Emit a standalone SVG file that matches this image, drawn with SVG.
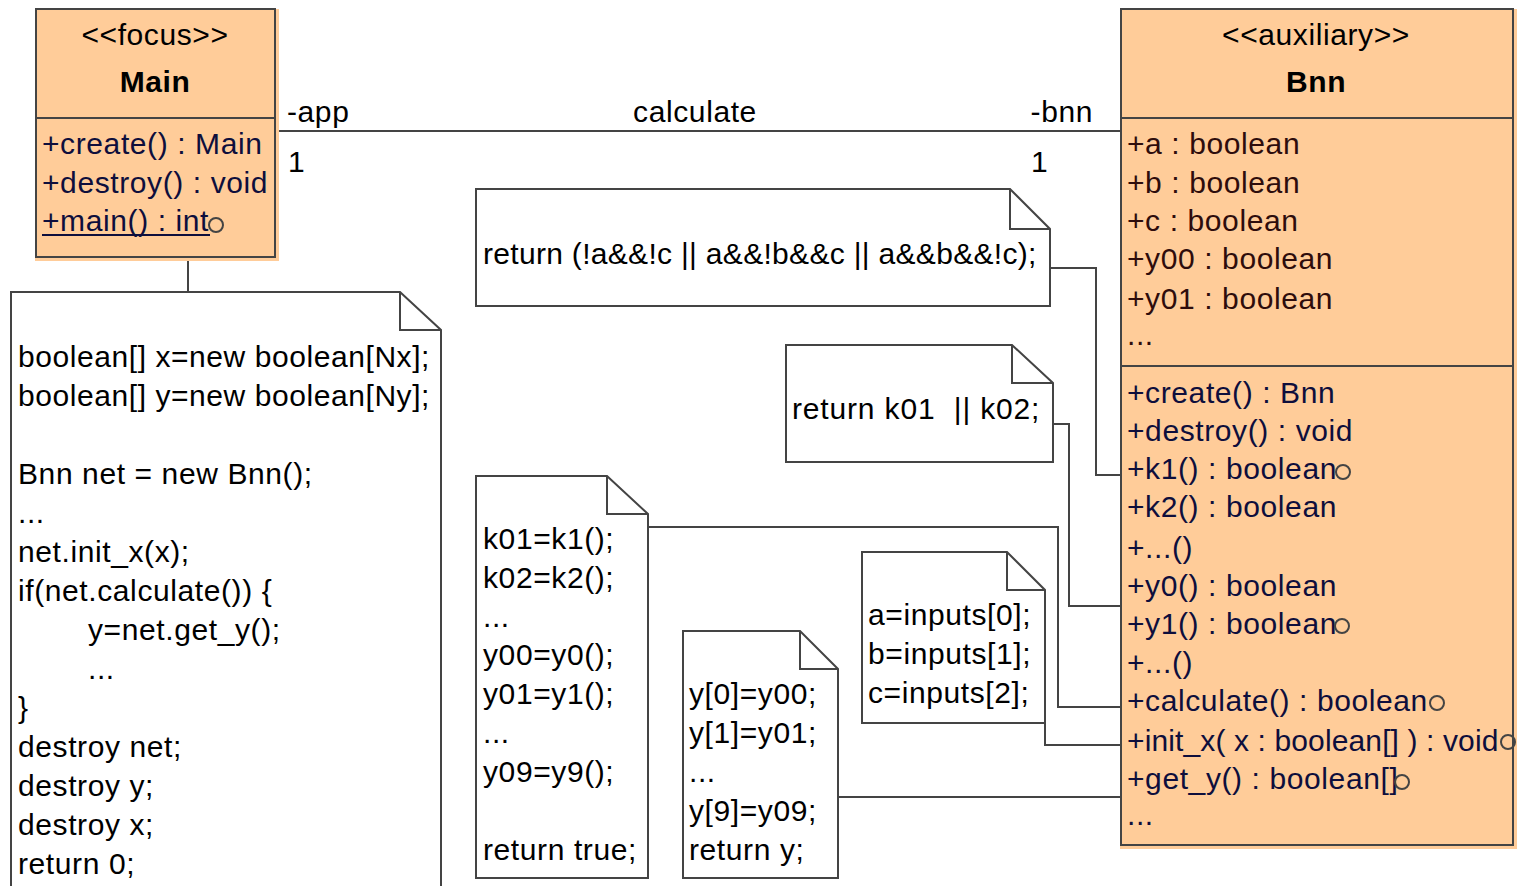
<svg xmlns="http://www.w3.org/2000/svg" width="1517" height="886" viewBox="0 0 1517 886">
<style>
text { font-family: "Liberation Sans", Arial, sans-serif; font-size: 30px; fill: #000; letter-spacing: 0.6px; }
.cls { fill: #FFCC99; stroke: #444; stroke-width: 2; }
.halo { fill: #FFCC99; }
.note { fill: #fff; stroke: #444; stroke-width: 2; }
.ln { fill: none; stroke: #444; stroke-width: 2; }
.nav { fill: #0e0e3c; }
.brn { fill: #2e0c0c; }
.b { font-weight: bold; }
.c { text-anchor: middle; }
</style>
<rect width="1517" height="886" fill="#fff"/>

<g id="connectors">
  <line class="ln" x1="275" y1="131" x2="1121" y2="131"/>
  <text x="287" y="122">-app</text>
  <text x="288" y="172">1</text>
  <text x="695" y="122" class="c">calculate</text>
  <text x="1093" y="122" text-anchor="end">-bnn</text>
  <text x="1031" y="172">1</text>
  <line class="ln" x1="188" y1="240" x2="188" y2="292"/>
  <polyline class="ln" points="1050,268 1096,268 1096,475 1128,475"/>
  <polyline class="ln" points="1053,424 1069,424 1069,606 1128,606"/>
  <polyline class="ln" points="648,527 1058,527 1058,707 1128,707"/>
  <polyline class="ln" points="1045,723 1045,745 1128,745"/>
  <polyline class="ln" points="838,797 1128,797"/>
</g>

<g id="main">
  <rect class="halo" x="35" y="9" width="244" height="252"/>
  <rect class="cls" x="36" y="9" width="239" height="248"/>
  <line class="ln" x1="36" y1="118" x2="275" y2="118"/>
  <text x="155" y="45" class="c">&lt;&lt;focus&gt;&gt;</text>
  <text x="155" y="92" class="c b">Main</text>
  <text x="42" y="154" class="nav">+create() : Main</text>
  <text x="42" y="193" class="nav">+destroy() : void</text>
  <text x="42" y="231" class="nav">+main() : int</text>
  <line x1="42" y1="235" x2="210" y2="235" stroke="#0e0e3c" stroke-width="2"/>
  <circle class="ln" cx="216" cy="225" r="7"/>
</g>

<g id="bnn">
  <rect class="halo" x="1120" y="9" width="397" height="840"/>
  <rect class="cls" x="1121" y="9" width="392" height="836"/>
  <line class="ln" x1="1121" y1="118" x2="1513" y2="118"/>
  <line class="ln" x1="1121" y1="366" x2="1513" y2="366"/>
  <text x="1316" y="45" class="c">&lt;&lt;auxiliary&gt;&gt;</text>
  <text x="1316" y="92" class="c b">Bnn</text>
  <text x="1127" y="154" class="brn">+a : boolean</text>
  <text x="1127" y="193" class="brn">+b : boolean</text>
  <text x="1127" y="231" class="brn">+c : boolean</text>
  <text x="1127" y="269" class="brn">+y00 : boolean</text>
  <text x="1127" y="309" class="brn">+y01 : boolean</text>
  <text x="1127" y="345" class="brn">...</text>
  <text x="1127" y="403" class="nav">+create() : Bnn</text>
  <text x="1127" y="441" class="nav">+destroy() : void</text>
  <text x="1127" y="479" class="nav">+k1() : boolean</text>
  <text x="1127" y="517" class="nav">+k2() : boolean</text>
  <text x="1127" y="558" class="nav">+...()</text>
  <text x="1127" y="596" class="nav">+y0() : boolean</text>
  <text x="1127" y="634" class="nav">+y1() : boolean</text>
  <text x="1127" y="673" class="nav">+...()</text>
  <text x="1127" y="711" class="nav">+calculate() : boolean</text>
  <text x="1127" y="751" class="nav" textLength="372" lengthAdjust="spacing">+init_x( x : boolean[] ) : void</text>
  <text x="1127" y="789" class="nav">+get_y() : boolean[]</text>
  <text x="1127" y="825" class="nav">...</text>
  <circle class="ln" cx="1343" cy="472" r="7"/>
  <circle class="ln" cx="1342" cy="626" r="7"/>
  <circle class="ln" cx="1437" cy="703" r="7"/>
  <circle class="ln" cx="1508" cy="742" r="7"/>
  <circle class="ln" cx="1402" cy="782" r="7"/>
</g>

<g id="note-main">
  <path class="note" d="M11,292 H400 L441,330 V900 H11 Z"/>
  <path class="ln" d="M400,292 V330 H441"/>
  <text x="18" y="367" textLength="412" lengthAdjust="spacing">boolean[] x=new boolean[Nx];</text>
  <text x="18" y="406" textLength="412" lengthAdjust="spacing">boolean[] y=new boolean[Ny];</text>
  <text x="18" y="484">Bnn net = new Bnn();</text>
  <text x="18" y="523">...</text>
  <text x="18" y="562">net.init_x(x);</text>
  <text x="18" y="601">if(net.calculate()) {</text>
  <text x="88" y="640">y=net.get_y();</text>
  <text x="88" y="679">...</text>
  <text x="18" y="718">}</text>
  <text x="18" y="757">destroy net;</text>
  <text x="18" y="796">destroy y;</text>
  <text x="18" y="835">destroy x;</text>
  <text x="18" y="874">return 0;</text>
</g>

<g id="note-calc">
  <path class="note" d="M476,189 H1010 L1050,229 V306 H476 Z"/>
  <path class="ln" d="M1010,189 V229 H1050"/>
  <text x="483" y="264" textLength="554" lengthAdjust="spacing">return (!a&amp;&amp;!c || a&amp;&amp;!b&amp;&amp;c || a&amp;&amp;b&amp;&amp;!c);</text>
</g>

<g id="note-y1">
  <path class="note" d="M786,345 H1012 L1053,383 V462 H786 Z"/>
  <path class="ln" d="M1012,345 V383 H1053"/>
  <text x="792" y="419" xml:space="preserve" textLength="248" lengthAdjust="spacing">return k01  || k02;</text>
</g>

<g id="note-k">
  <path class="note" d="M476,476 H607 L648,514 V878 H476 Z"/>
  <path class="ln" d="M607,476 V514 H648"/>
  <text x="483" y="549">k01=k1();</text>
  <text x="483" y="588">k02=k2();</text>
  <text x="483" y="627">...</text>
  <text x="483" y="665">y00=y0();</text>
  <text x="483" y="704">y01=y1();</text>
  <text x="483" y="743">...</text>
  <text x="483" y="782">y09=y9();</text>
  <text x="483" y="860">return true;</text>
</g>

<g id="note-y">
  <path class="note" d="M683,631 H800 L838,669 V878 H683 Z"/>
  <path class="ln" d="M800,631 V669 H838"/>
  <text x="689" y="704">y[0]=y00;</text>
  <text x="689" y="743">y[1]=y01;</text>
  <text x="689" y="782">...</text>
  <text x="689" y="821">y[9]=y09;</text>
  <text x="689" y="860">return y;</text>
</g>

<g id="note-inputs">
  <path class="note" d="M862,552 H1007 L1045,590 V723 H862 Z"/>
  <path class="ln" d="M1007,552 V590 H1045"/>
  <text x="868" y="625">a=inputs[0];</text>
  <text x="868" y="664">b=inputs[1];</text>
  <text x="868" y="703">c=inputs[2];</text>
</g>
</svg>
